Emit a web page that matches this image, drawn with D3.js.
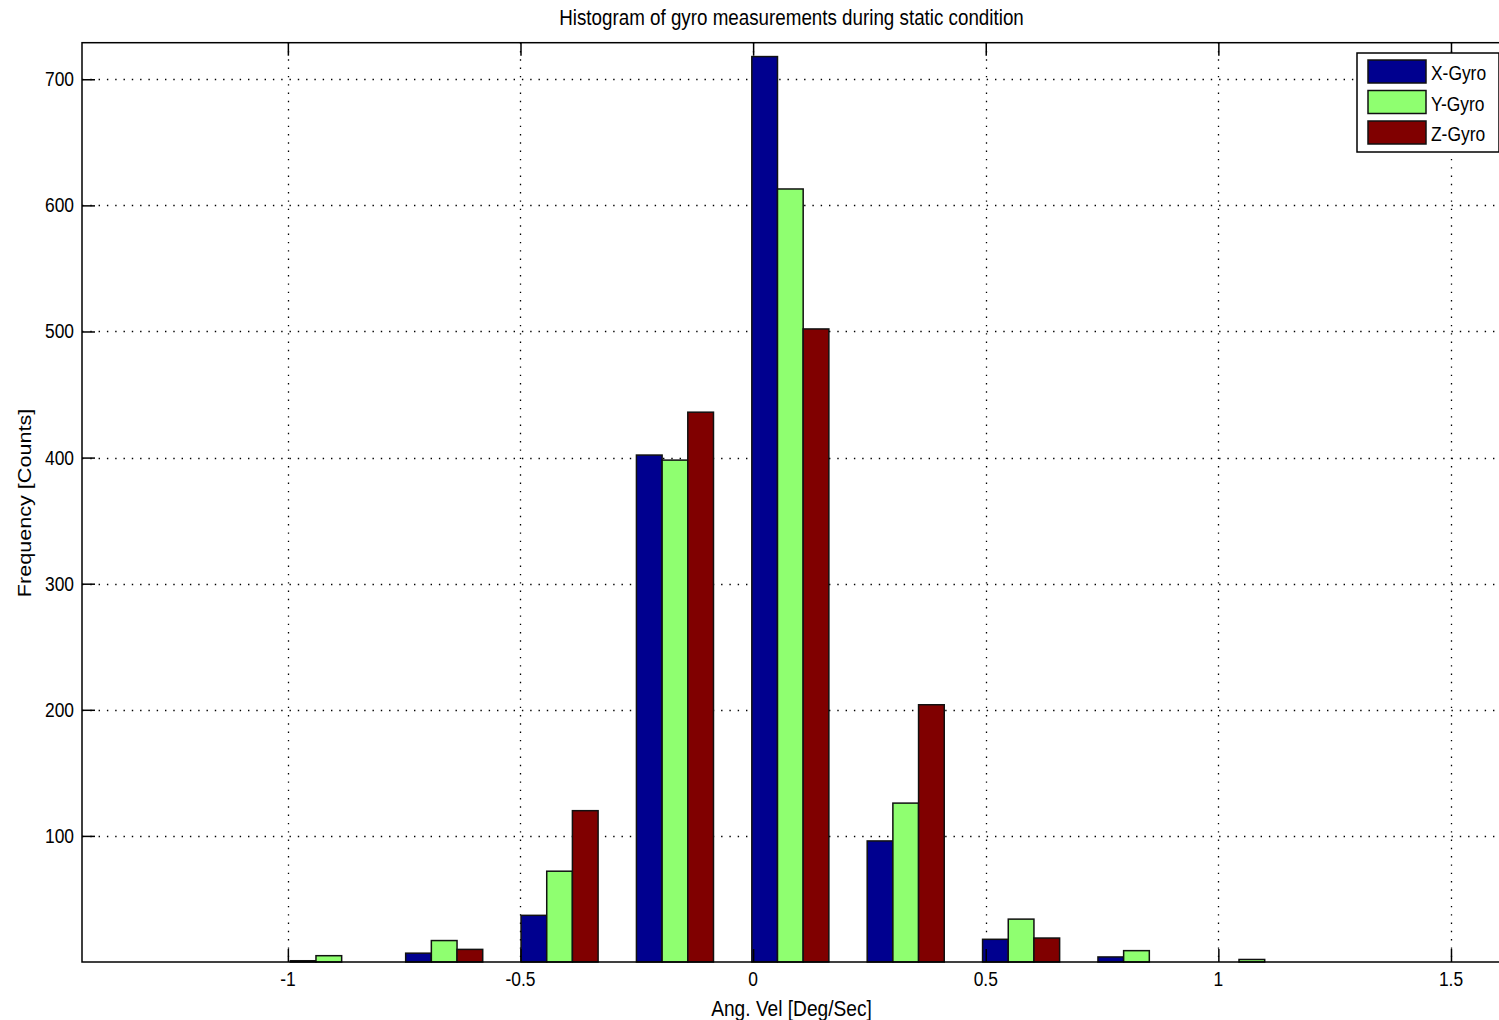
<!DOCTYPE html>
<html>
<head>
<meta charset="utf-8">
<script src="https://cdn.jsdelivr.net/npm/d3@7"></script>
<style>
  body { margin: 0; background: #fff; }
  svg text { font-family: "Liberation Sans", Arial, sans-serif; fill: #000; }
</style>
</head>
<body>
<svg id="chart" width="1499" height="1020"></svg>
<script>
// histogram bins (bin centers, Deg/Sec) and counts per gyro axis
const binCenters = [-0.912, -0.664, -0.416, -0.168, 0.080, 0.328, 0.576, 0.824, 1.072];
const xGyro = [1, 7, 37, 402, 718, 96, 18, 4, 0];
const yGyro = [5, 17, 72, 398, 613, 126, 34, 9, 2];
const zGyro = [0, 10, 120, 436, 502, 204, 19, 0, 0];
const seriesNames = ["X-Gyro", "Y-Gyro", "Z-Gyro"];
const seriesColors = ["#00008f", "#8fff70", "#800000"];
const xTicks = [-1, -0.5, 0, 0.5, 1, 1.5];
const yTicks = [100, 200, 300, 400, 500, 600, 700];

const series = [xGyro, yGyro, zGyro];
const svg = d3.select("#chart");
const pLeft = 82, pTop = 42.7, pRight = 1501, pBottom = 962;
const sx = 0.87; // narrow look of the original font
const fs = 20;

const x = d3.scaleLinear().domain([-1.4425, 1.6075]).range([pLeft, pRight]);
const y = d3.scaleLinear().domain([0, 729]).range([pBottom, pTop]);

//grid
const grid = svg.append("g").attr("stroke", "#000").attr("stroke-width", 1.3)
  .attr("stroke-dasharray", "1.4 6.9");
grid.selectAll(".gy").data(yTicks).enter().append("line")
  .attr("x1", pLeft).attr("x2", pRight)
  .attr("y1", d => Math.round(y(d)) + 0.5).attr("y2", d => Math.round(y(d)) + 0.5);
grid.selectAll(".gx").data(xTicks).enter().append("line")
  .attr("y1", pTop).attr("y2", pBottom)
  .attr("x1", d => Math.round(x(d)) + 0.5).attr("x2", d => Math.round(x(d)) + 0.5);

//bars
const binStep = binCenters[1] - binCenters[0];
const barW = binStep * 0.2226;
series.forEach((vals, s) => {
  svg.append("g").selectAll("rect")
    .data(vals.map((v, i) => ({c: binCenters[i] + (s - 1) * barW, v: v})))
    .enter().append("rect")
    .attr("x", d => x(d.c - barW / 2))
    .attr("width", d => x(d.c + barW / 2) - x(d.c - barW / 2))
    .attr("y", d => y(d.v))
    .attr("height", d => y(0) - y(d.v))
    .attr("fill", seriesColors[s])
    .attr("stroke", "#111")
    .attr("stroke-width", 1.5);
});

//axes with inward ticks
function styleAxis(g) {
  g.select(".domain").remove();
  g.selectAll("line").attr("stroke", "#000").attr("stroke-width", 1.5);
}
svg.append("g").attr("transform", `translate(0,${pBottom})`)
  .call(d3.axisBottom(x).tickValues(xTicks).tickSize(-13).tickFormat(""))
  .call(styleAxis);
svg.append("g").attr("transform", `translate(0,${pTop})`)
  .call(d3.axisTop(x).tickValues(xTicks).tickSize(-13).tickFormat(""))
  .call(styleAxis);
svg.append("g").attr("transform", `translate(${pLeft},0)`)
  .call(d3.axisLeft(y).tickValues(yTicks).tickSize(-13).tickFormat(""))
  .call(styleAxis);

svg.append("rect")
  .attr("x", pLeft).attr("y", pTop)
  .attr("width", pRight - pLeft).attr("height", pBottom - pTop)
  .attr("fill", "none").attr("stroke", "#000").attr("stroke-width", 1.5);

function label(px, py, txt, anchor, size, rot) {
  // rotated text: squeeze across the line, not along it
  const sc = rot ? `scale(1,${sx})` : `scale(${sx},1)`;
  return svg.append("text")
    .attr("transform", `translate(${px},${py})` + (rot ? ` rotate(${rot})` : "") + " " + sc)
    .attr("text-anchor", anchor)
    .attr("font-size", size || fs)
    .text(txt);
}

xTicks.forEach(t => label(x(t), 986, String(t), "middle"));
yTicks.forEach(t => label(pLeft - 8, y(t) + 7, String(t), "end"));

label((pLeft + pRight) / 2, 25, "Histogram of gyro measurements during static condition", "middle", 21.6);
label((pLeft + pRight) / 2, 1016, "Ang. Vel [Deg/Sec]", "middle", 22);
label(31, 503, "Frequency [Counts]", "middle", 21.6, -90);

//legend
const legend = svg.append("g");
legend.append("rect")
  .attr("x", 1357).attr("y", 53).attr("width", 142).attr("height", 99)
  .attr("fill", "#fff").attr("stroke", "#000").attr("stroke-width", 1.5);
seriesNames.forEach((n, i) => {
  const yy = 60 + i * 30.5;
  legend.append("rect")
    .attr("x", 1368).attr("y", yy).attr("width", 58).attr("height", 23)
    .attr("fill", seriesColors[i]).attr("stroke", "#111").attr("stroke-width", 1.5);
  label(1431, yy + 20, n, "start");
});
</script>
</body>
</html>
